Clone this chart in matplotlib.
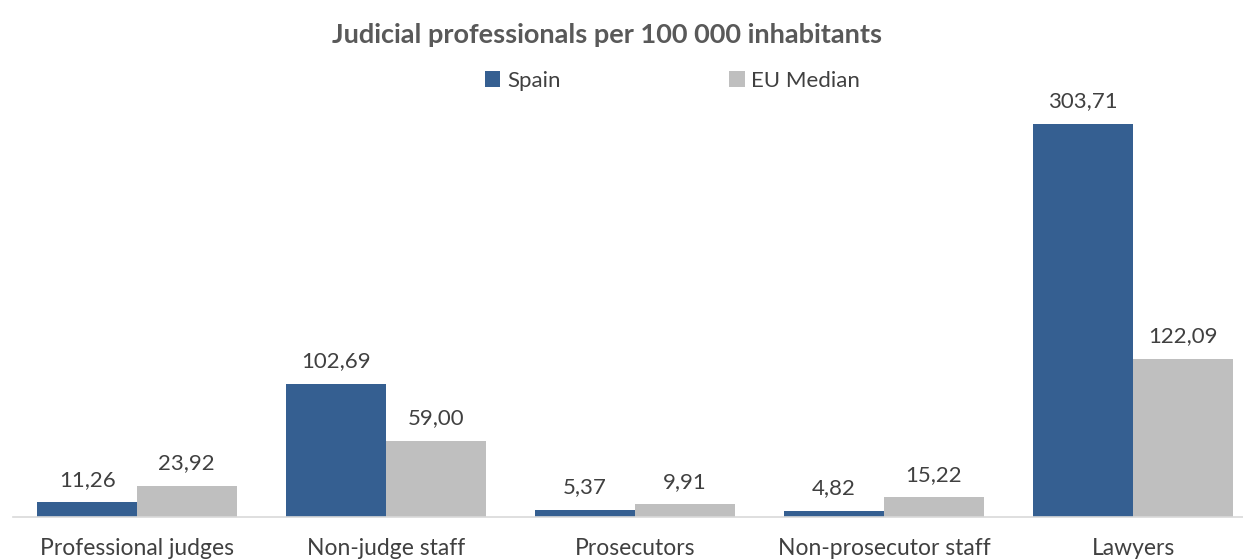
import matplotlib.pyplot as plt
import numpy as np

categories = ['Professional judges', 'Non-judge staff', 'Prosecutors',
              'Non-prosecutor staff', 'Lawyers']
spain = [11.26, 102.69, 5.37, 4.82, 303.71]
eu_median = [23.92, 59.00, 9.91, 15.22, 122.09]

plt.rcParams['font.family'] = ['Lato', 'DejaVu Sans']

W, H = 1243, 560
fig = plt.figure(figsize=(W / 100, H / 100), dpi=100)
# axes spans slightly past the right edge, like the original
left_px, right_px, bottom_px, top_px = 12.5, 1257.5, 517, 64
ax = fig.add_axes([left_px / W, (H - bottom_px) / H,
                   (right_px - left_px) / W, (bottom_px - top_px) / H])

x = np.arange(len(categories))
w = 0.4
blue = '#355F91'
grey = '#BFBFBF'
b1 = ax.bar(x - w / 2, spain, w, color=blue, label='Spain')
b2 = ax.bar(x + w / 2, eu_median, w, color=grey, label='EU Median')

for bars, vals in ((b1, spain), (b2, eu_median)):
    for bar, v in zip(bars, vals):
        ax.annotate(f'{v:.2f}'.replace('.', ','),
                    (bar.get_x() + bar.get_width() / 2, v),
                    xytext=(0, 9), textcoords='offset points',
                    ha='center', va='bottom', fontsize=16, color='#404040')

ax.set_xlim(-0.5, len(categories) - 0.5)
ax.set_ylim(0, 350)
ax.set_yticks([])
ax.set_xticks(x)
ax.set_xticklabels(categories, fontsize=16.5, color='#404040')
ax.tick_params(axis='x', length=0, pad=15)
for s in ['top', 'right', 'left']:
    ax.spines[s].set_visible(False)
ax.spines['bottom'].set_color('#D9D9D9')
ax.spines['bottom'].set_linewidth(1.2)

fig.text(0.488, 0.937, 'Judicial professionals per 100 000 inhabitants',
         ha='center', va='center', fontsize=19.5, fontweight='bold', color='#595959')
fig.legend(handles=[b1, b2], loc='center', bbox_to_anchor=(0.541, 0.856),
           ncol=2, frameon=False, fontsize=16, handlelength=0.7, handleheight=0.7,
           handletextpad=0.3, columnspacing=7.6, labelcolor='#404040')

fig.savefig('out.png', dpi=100)
